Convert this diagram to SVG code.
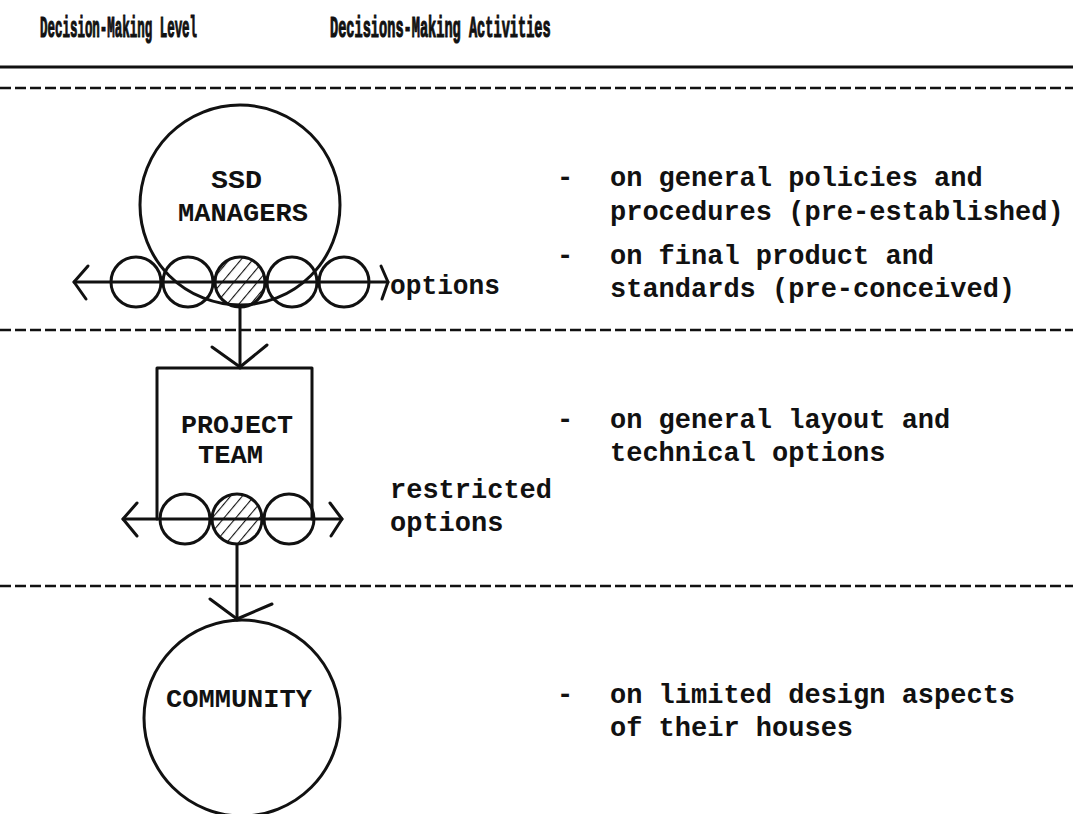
<svg xmlns="http://www.w3.org/2000/svg" width="1073" height="814" viewBox="0 0 1073 814">
  <defs>
    <pattern id="hatch" patternUnits="userSpaceOnUse" width="9" height="9" patternTransform="rotate(40)">
      <line x1="0" y1="0" x2="0" y2="9" stroke="#111" stroke-width="2.2"/>
    </pattern>
    <style>
      .ln { fill: none; stroke: #111; stroke-width: 3; stroke-linecap: round; stroke-linejoin: round; }
      .dash { fill: none; stroke: #111; stroke-width: 2.5; stroke-dasharray: 11 4; }
      .hd { font-family: "Liberation Mono", "DejaVu Sans Mono", monospace; font-weight: bold; font-size: 29px; fill: #111; stroke: #111; stroke-width: 1.2; }
      .tx { font-family: "Liberation Mono", "DejaVu Sans Mono", monospace; font-weight: bold; font-size: 27px; fill: #111; }
      .lb { font-family: "Liberation Mono", "DejaVu Sans Mono", monospace; font-weight: bold; font-size: 25px; fill: #111; }
    </style>
  </defs>
  <rect width="1073" height="814" fill="#fff"/>

  <!-- column headings (condensed typewriter face) -->
  <text class="hd" transform="translate(40,37) scale(0.43,1)">Decision-Making Level</text>
  <text class="hd" transform="translate(330,37) scale(0.47,1)">Decisions-Making Activities</text>

  <!-- rules separating the levels -->
  <g id="rules">
    <line class="ln" x1="0" y1="67" x2="1073" y2="67" stroke-width="2.5"/>
    <line class="dash" x1="0" y1="88" x2="1073" y2="88"/>
    <line class="dash" x1="0" y1="330" x2="1073" y2="330"/>
    <line class="dash" x1="0" y1="586" x2="1073" y2="586"/>
  </g>

  <!-- SSD managers -->
  <g id="ssd-managers">
    <circle class="ln" cx="240" cy="205" r="100"/>
    <text class="lb" x="211" y="188" textLength="51" lengthAdjust="spacingAndGlyphs">SSD</text>
    <text class="lb" x="178" y="221" textLength="130" lengthAdjust="spacingAndGlyphs">MANAGERS</text>
  </g>
  <g id="ssd-options">
    <circle cx="240" cy="282" r="25" fill="url(#hatch)"/>
    <circle class="ln" cx="136" cy="282" r="25"/>
    <circle class="ln" cx="188" cy="282" r="25"/>
    <circle class="ln" cx="240" cy="282" r="25"/>
    <circle class="ln" cx="292" cy="282" r="25"/>
    <circle class="ln" cx="344" cy="282" r="25"/>
    <line class="ln" x1="74" y1="282" x2="388" y2="282"/>
    <polyline class="ln" points="88,266 74,282 86,299"/>
    <polyline class="ln" points="381,266 388,282 382,299"/>
    <text class="tx" x="390" y="294" textLength="110" lengthAdjust="spacingAndGlyphs">options</text>
  </g>

  <!-- project team -->
  <g id="project-team">
    <polyline class="ln" points="157,519 157,368 312,368 312,519"/>
    <text class="lb" x="181" y="433" textLength="112" lengthAdjust="spacingAndGlyphs">PROJECT</text>
    <text class="lb" x="198" y="463" textLength="65" lengthAdjust="spacingAndGlyphs">TEAM</text>
  </g>
  <g id="team-options">
    <circle cx="237" cy="519" r="25" fill="url(#hatch)"/>
    <circle class="ln" cx="185" cy="519" r="25"/>
    <circle class="ln" cx="237" cy="519" r="25"/>
    <circle class="ln" cx="289" cy="519" r="25"/>
    <line class="ln" x1="123" y1="519" x2="342" y2="519"/>
    <polyline class="ln" points="137,503 123,519 137,536"/>
    <polyline class="ln" points="330,503 342,519 331,536"/>
    <text class="tx" x="390" y="498">restricted</text>
    <text class="tx" x="390" y="531">options</text>
  </g>

  <!-- community -->
  <g id="community">
    <circle class="ln" cx="242" cy="718" r="98"/>
    <text class="lb" x="166" y="707" textLength="146" lengthAdjust="spacingAndGlyphs">COMMUNITY</text>
  </g>

  <!-- downward connectors -->
  <g id="connectors">
    <line class="ln" x1="240" y1="307" x2="240" y2="368"/>
    <polyline class="ln" points="212,347 240,367 267,345"/>
    <line class="ln" x1="237" y1="545" x2="237" y2="620"/>
    <polyline class="ln" points="210,599 237,619 272,604"/>
  </g>

  <!-- decision-making activities -->
  <g id="activities">
    <text class="tx" x="557" y="186">-</text>
    <text class="tx" x="610" y="186">on general policies and</text>
    <text class="tx" x="610" y="220">procedures (pre-established)</text>
    <text class="tx" x="557" y="264">-</text>
    <text class="tx" x="610" y="264">on final product and</text>
    <text class="tx" x="610" y="297">standards (pre-conceived)</text>
    <text class="tx" x="557" y="428">-</text>
    <text class="tx" x="610" y="428">on general layout and</text>
    <text class="tx" x="610" y="461">technical options</text>
    <text class="tx" x="557" y="703">-</text>
    <text class="tx" x="610" y="703">on limited design aspects</text>
    <text class="tx" x="610" y="736">of their houses</text>
  </g>
</svg>
